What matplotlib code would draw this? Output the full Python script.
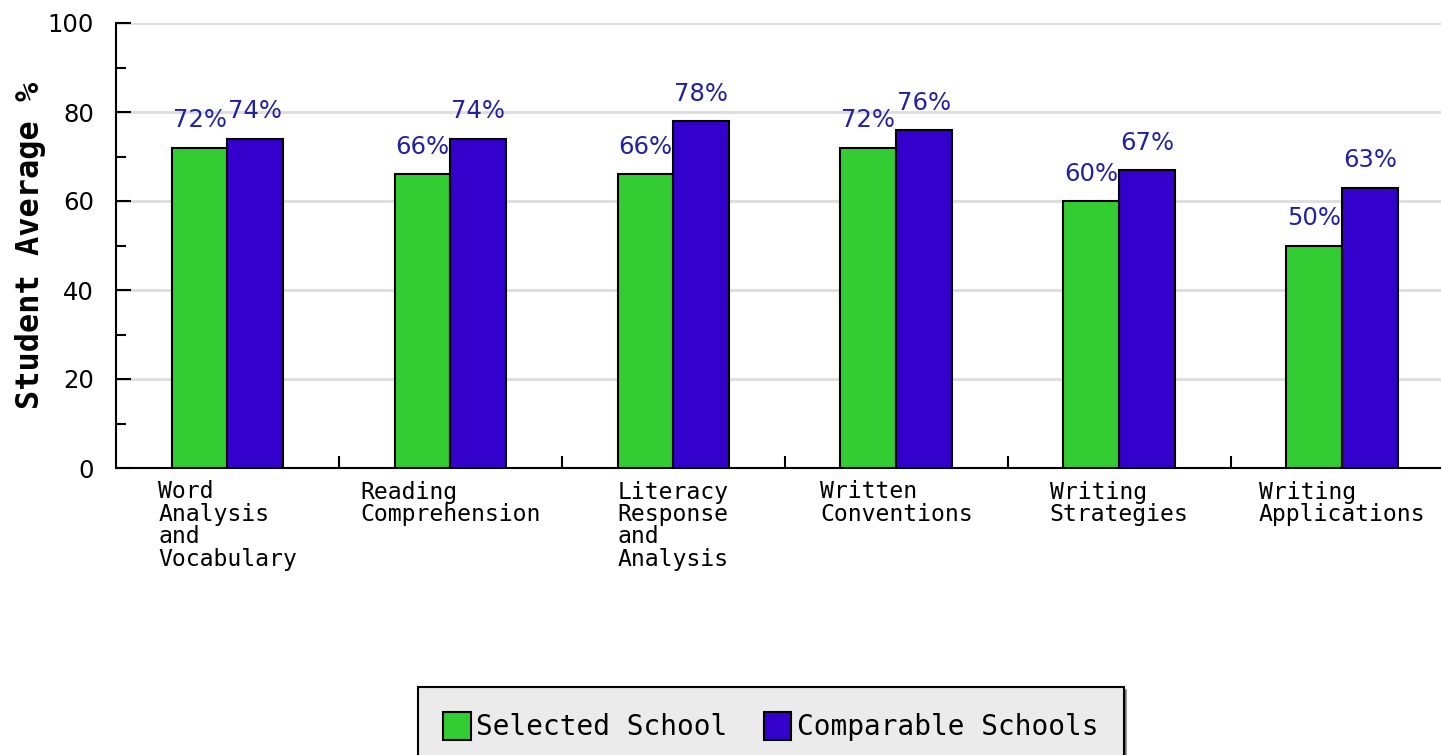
import numpy as np
import matplotlib
matplotlib.use("Agg")
import matplotlib.pyplot as plt
from matplotlib.patches import Patch

categories = ["Word\nAnalysis\nand\nVocabulary", "Reading\nComprehension",
              "Literacy\nResponse\nand\nAnalysis", "Written\nConventions",
              "Writing\nStrategies", "Writing\nApplications"]
selected = [72, 66, 66, 72, 60, 50]
comparable = [74, 74, 78, 76, 67, 63]
series_names = ["Selected School", "Comparable Schools"]

green = "#33cc33"
blue = "#3300cc"
label_color = "#2222a0"

fig = plt.figure(figsize=(14.41, 7.55), dpi=100)
# axes runs off the right edge, like the original
ax = fig.add_axes([116 / 1441, 1 - 468 / 755, 1337.5 / 1441, 445 / 755])

x = np.arange(len(categories))
w = 0.25
b1 = ax.bar(x - w / 2, selected, w, color=green, edgecolor="black", linewidth=1.5, zorder=3)
b2 = ax.bar(x + w / 2, comparable, w, color=blue, edgecolor="black", linewidth=1.5, zorder=3)

ax.bar_label(b1, labels=[f"{v}%" for v in selected], padding=11, color=label_color, fontsize=17.5)
ax.bar_label(b2, labels=[f"{v}%" for v in comparable], padding=11, color=label_color, fontsize=17.5)

ax.set_xlim(-0.5, len(categories) - 0.5)
ax.set_ylim(0, 100)

ax.set_yticks(np.arange(0, 101, 20))
ax.set_yticks(np.arange(10, 100, 20), minor=True)
ax.tick_params(axis="y", which="major", direction="in", length=11, width=1.5, labelsize=17.5, pad=16)
ax.tick_params(axis="y", which="minor", direction="in", length=7, width=1.5)

ax.set_xticks(x)
ax.set_xticklabels(categories, fontfamily="DejaVu Sans Mono", fontsize=16.7,
                   linespacing=0.97, ha="center", multialignment="left", va="top")
ax.set_xticks(x[:-1] + 0.5, minor=True)
ax.tick_params(axis="x", which="major", length=0, pad=9)
ax.tick_params(axis="x", which="minor", direction="in", length=9, width=1.5)

ax.grid(axis="y", which="major", color="#dddddd", linewidth=2, zorder=0)
ax.set_axisbelow(True)
for s in ["top", "right"]:
    ax.spines[s].set_visible(False)
for s in ["left", "bottom"]:
    ax.spines[s].set_linewidth(1.5)

ax.set_ylabel("Student Average %", fontfamily="DejaVu Sans Mono", fontweight="bold",
              fontsize=23, labelpad=1)

handles = [Patch(facecolor=green, edgecolor="black", linewidth=1.5),
           Patch(facecolor=blue, edgecolor="black", linewidth=1.5)]
leg = fig.legend(handles, series_names, loc="upper left",
                 bbox_to_anchor=(418 / 1441, 1 - 687 / 755), ncol=2,
                 prop={"family": "DejaVu Sans Mono", "size": 20},
                 handlelength=1.0, handleheight=1.15, handletextpad=0.2,
                 columnspacing=1.3, borderpad=0.9, borderaxespad=0,
                 fancybox=False, shadow=True, framealpha=1,
                 facecolor="#ebebeb", edgecolor="black")
leg.get_frame().set_linewidth(1.5)

fig.savefig("out.png", dpi=100)
